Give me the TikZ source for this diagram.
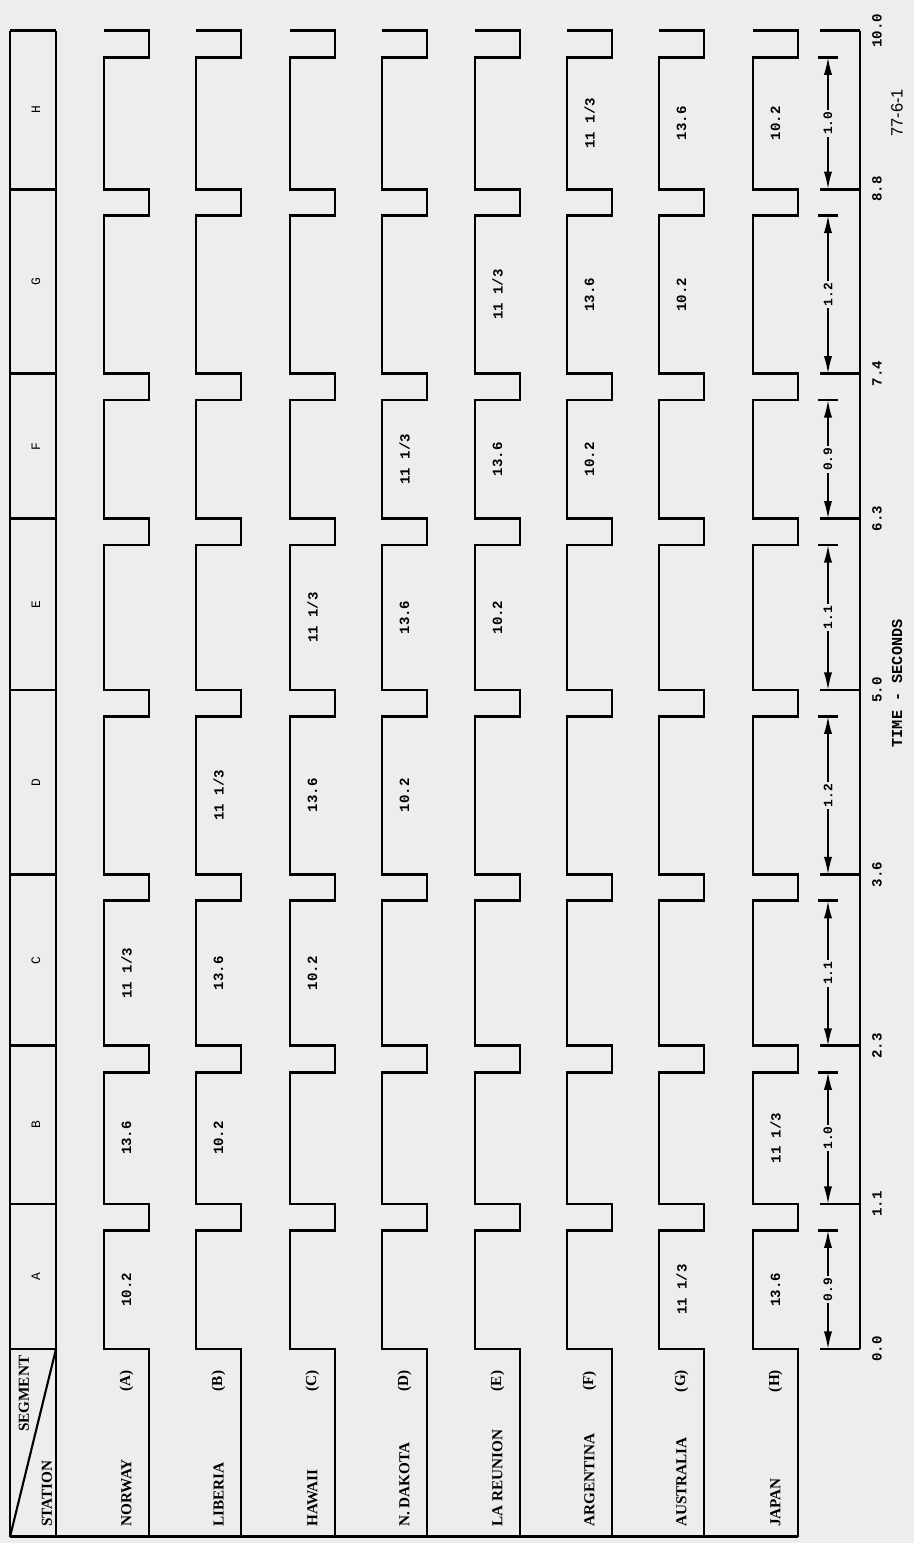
\documentclass[tikz,border=0pt]{standalone}
\usepackage{fontspec}
\newfontfamily\namefont{Liberation Serif}
\newfontfamily\typefont{Liberation Mono}
\newfontfamily\codefont{Liberation Sans}
\usepackage{tikz}
\usetikzlibrary{arrows.meta, calc}
\definecolor{paper}{gray}{0.93}

\tikzset{
  wave/.style={line width=2.5pt, line join=miter},
  frame/.style={line width=2.5pt},
  dimline/.style={line width=1.4pt, {Latex[length=15pt,width=7pt]}-{Latex[length=15pt,width=7pt]}},
  stname/.style={rotate=90, anchor=west, inner sep=0pt, font=\namefont\bfseries\fontsize{13pt}{15pt}\selectfont},
  stcode/.style={rotate=90, inner sep=0pt, font=\namefont\bfseries\fontsize{13pt}{15pt}\selectfont},
  freq/.style={rotate=90, inner sep=0pt, font=\typefont\bfseries\fontsize{12pt}{14pt}\selectfont},
  seglet/.style={rotate=90, inner sep=0pt, font=\typefont\fontsize{11pt}{13pt}\selectfont},
  timelabel/.style={rotate=90, inner sep=0pt, font=\typefont\bfseries\fontsize{12pt}{14pt}\selectfont},
  dimlabel/.style={rotate=90, fill=paper, inner sep=1.5pt, font=\typefont\bfseries\fontsize{11pt}{13pt}\selectfont},
}

\begin{document}
\begin{tikzpicture}[x=0.03cm, y=3.954cm]
% Page (x in pixels, y in seconds)
\fill[paper] (0,-1.472) rectangle (914,10.235);
\useasboundingbox (0,-1.472) rectangle (914,10.235);
\coordinate (corner) at (10,-1.426);
\coordinate (hdtop) at (56,0);
% Header column with segment cells
\draw[frame] (10,10) -- (56,10);
\draw[frame] (10,10) -- (corner);
\draw[frame] (56,10) -- (56,-1.426);
\foreach \t in {0,1.1,2.3,3.6,5.0,6.3,7.4,8.8} {
  \draw[frame] (10,\t) -- (56,\t);
}
\draw[line width=1.8pt] (corner) -- (hdtop);
\node[stname, anchor=east] (hdseg) at (24,-0.05) {SEGMENT};
\node[stname] (hdsta) at (47,-1.351) {STATION};
\foreach \t/\lab in {0.55/A, 1.7/B, 2.95/C, 4.3/D, 5.65/E, 6.85/F, 8.1/G, 9.4/H} {
  \node[seglet] (seg\lab) at (36,\t) {\lab};
}
% Baseline under the station cells
\draw[frame] (corner) -- (798,-1.426);
% One notched trace per station
\foreach \x/\stn/\stc in {104/NORWAY/A, 196/LIBERIA/B, 290/HAWAII/C, 382/N. DAKOTA/D,
    475/LA REUNION/E, 567/ARGENTINA/F, 659/AUSTRALIA/G, 753/JAPAN/H} {
  \pgfmathsetmacro\xn{\x+45}
  \pgfmathsetmacro\xc{\x+22.5}
  \draw[wave] (\xn,-1.426) -- (\xn,0) -- (\x,0)
    \foreach \e/\s in {0.9/1.1, 2.1/2.3, 3.4/3.6, 4.8/5.0, 6.1/6.3, 7.2/7.4, 8.6/8.8, 9.8/10} {
      -- (\x,\e) -- (\xn,\e) -- (\xn,\s) -- (\x,\s)
    };
  \node[stname] (st\stc) at (\xc,-1.351) {\stn};
  \node[stcode] (code\stc) at (\xc,-0.243) {(\stc)};
}
% Frequencies (kHz) sent in each segment
\foreach \xc/\t/\fr [count=\k] in {126.5/0.45/10.2, 681.5/0.45/{11 1/3}, 775.5/0.45/13.6,
    126.5/1.6/13.6, 218.5/1.6/10.2, 775.5/1.6/{11 1/3},
    126.5/2.85/{11 1/3}, 218.5/2.85/13.6, 312.5/2.85/10.2,
    218.5/4.2/{11 1/3}, 312.5/4.2/13.6, 404.5/4.2/10.2,
    312.5/5.55/{11 1/3}, 404.5/5.55/13.6, 497.5/5.55/10.2,
    404.5/6.75/{11 1/3}, 497.5/6.75/13.6, 589.5/6.75/10.2,
    497.5/8.0/{11 1/3}, 589.5/8.0/13.6, 681.5/8.0/10.2,
    589.5/9.3/{11 1/3}, 681.5/9.3/13.6, 775.5/9.3/10.2} {
  \node[freq] (f\k) at (\xc,\t) {\fr};
}
% Time scale
\draw[frame] (860,0) -- (860,10);
\foreach \t/\lab in {0/0.0, 1.1/1.1, 2.3/2.3, 3.6/3.6, 5.0/5.0, 6.3/6.3, 7.4/7.4, 8.8/8.8, 10/10.0} {
  \draw[frame] (820,\t) -- (860,\t);
  \node[timelabel] (tl\lab) at (877,\t) {\lab};
}
\foreach \t in {0.9, 2.1, 3.4, 4.8, 6.1, 7.2, 8.6, 9.8} {
  \draw[frame] (818,\t) -- (838,\t);
}
% Segment lengths
\foreach \s/\e/\d [count=\k] in {0/0.9/0.9, 1.1/2.1/1.0, 2.3/3.4/1.1, 3.6/4.8/1.2,
    5.0/6.1/1.1, 6.3/7.2/0.9, 7.4/8.6/1.2, 8.8/9.8/1.0} {
  \coordinate (ds\k) at (828,\s);
  \coordinate (de\k) at (828,\e);
  \draw[dimline] (ds\k) -- (de\k) node[midway, dimlabel] (dl\k) {\d};
}
\node[rotate=90, inner sep=0pt, font=\typefont\bfseries\fontsize{13pt}{15pt}\selectfont] (axis) at (897,5.05) {TIME - SECONDS};
\node[rotate=90, inner sep=0pt, font=\codefont\fontsize{14pt}{16pt}\selectfont] (fig) at (897,9.378) {77-6-1};
\end{tikzpicture}
\end{document}
